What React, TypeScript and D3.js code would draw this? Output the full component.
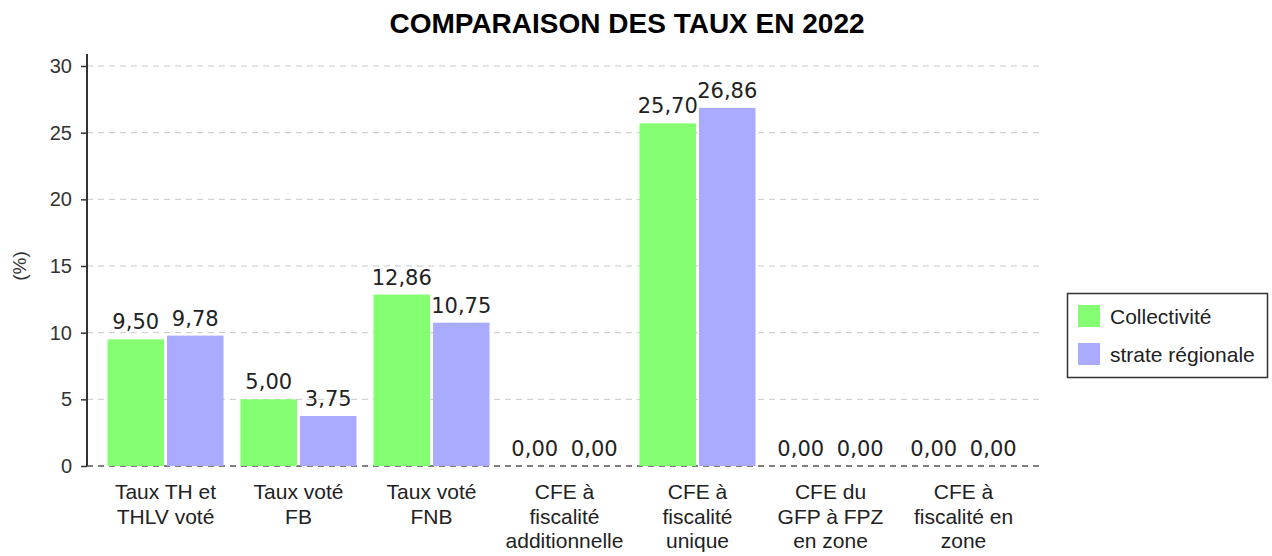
import React, { useEffect, useRef } from "react";
import * as d3 from "d3";

const categories = [
  ["Taux TH et", "THLV voté"],
  ["Taux voté", "FB"],
  ["Taux voté", "FNB"],
  ["CFE à", "fiscalité", "additionnelle"],
  ["CFE à", "fiscalité", "unique"],
  ["CFE du", "GFP à FPZ", "en zone"],
  ["CFE à", "fiscalité en", "zone"],
];
const collectivite = [9.5, 5.0, 12.86, 0, 25.7, 0, 0];
const strate = [9.78, 3.75, 10.75, 0, 26.86, 0, 0];
const seriesNames = ["Collectivité", "strate régionale"];
const seriesColors = ["#84ff72", "#aaaaff"];
const yTicks = [0, 5, 10, 15, 20, 25, 30];

function App() {
  const svgRef = useRef<SVGSVGElement>(null);

  useEffect(() => {
    const svg = d3.select(svgRef.current);
    svg.selectAll("*").remove();

    const left = 87, right = 1042, top = 66, bottom = 466;
    const sans = "'Liberation Sans', Arial, sans-serif";
    const dejavu = "'DejaVu Sans', sans-serif";

    const x = d3.scaleBand<number>()
      .domain(categories.map((_, i) => i))
      .range([left + 12, right - 12]);
    const y = d3.scaleLinear().domain([0, 30]).range([bottom, top]);
    const inner = d3.scaleBand<number>().domain([0, 1]).range([8.5, x.bandwidth() - 8.5]).paddingInner(0.05);

    // title
    svg.append("text")
      .attr("x", 627).attr("y", 33)
      .attr("text-anchor", "middle")
      .attr("font-family", sans).attr("font-weight", "bold").attr("font-size", 28)
      .attr("fill", "#000")
      .text("COMPARAISON DES TAUX EN 2022");

    // gridlines
    svg.append("g").selectAll("line")
      .data(yTicks)
      .join("line")
      .attr("x1", left).attr("x2", right)
      .attr("y1", d => y(d)).attr("y2", d => y(d))
      .attr("stroke", d => d === 0 ? "#555" : "#c8c8c8")
      .attr("stroke-width", d => d === 0 ? 1.5 : 1)
      .attr("stroke-dasharray", "6,5");

    // bars
    const data = [collectivite, strate];
    data.forEach((vals, s) => {
      svg.append("g").selectAll("rect")
        .data(vals)
        .join("rect")
        .attr("x", (_, i) => (x(i) as number) + (inner(s) as number))
        .attr("y", d => y(d))
        .attr("width", inner.bandwidth())
        .attr("height", d => bottom - y(d))
        .attr("fill", seriesColors[s]);

      svg.append("g").selectAll("text")
        .data(vals)
        .join("text")
        .attr("x", (_, i) => (x(i) as number) + (inner(s) as number) + inner.bandwidth() / 2)
        .attr("y", d => y(d) - 10)
        .attr("text-anchor", "middle")
        .attr("font-family", dejavu).attr("font-size", 21)
        .attr("fill", "#222")
        .text(d => d.toFixed(2).replace(".", ","));
    });

    // y axis
    const yAxis = svg.append("g")
      .attr("transform", `translate(${left},0)`)
      .call(d3.axisLeft(y).tickValues(yTicks).tickSize(6).tickPadding(9));
    yAxis.select(".domain").remove();
    yAxis.selectAll("line").attr("stroke", "#333").attr("stroke-width", 1.5);
    yAxis.selectAll("text")
      .attr("font-family", sans).attr("font-size", 20).attr("fill", "#333");
    svg.append("line")
      .attr("x1", left).attr("x2", left)
      .attr("y1", 54).attr("y2", bottom)
      .attr("stroke", "#333").attr("stroke-width", 2);

    svg.append("text")
      .attr("transform", `translate(26,${(top + bottom) / 2}) rotate(-90)`)
      .attr("text-anchor", "middle")
      .attr("font-family", sans).attr("font-size", 19).attr("fill", "#333")
      .text("(%)");

    // x labels
    const xl = svg.append("g").selectAll("text")
      .data(categories)
      .join("text")
      .attr("text-anchor", "middle")
      .attr("font-family", sans).attr("font-size", 21).attr("fill", "#222");
    xl.selectAll("tspan")
      .data((d, i) => d.map(line => ({ line, i })))
      .join("tspan")
      .attr("x", d => (x(d.i) as number) + x.bandwidth() / 2)
      .attr("y", (_, j) => 499 + j * 24.5)
      .text(d => d.line);

    // legend
    const lg = svg.append("g");
    lg.append("rect")
      .attr("x", 1067.5).attr("y", 293.5).attr("width", 200).attr("height", 84)
      .attr("fill", "#fff").attr("stroke", "#333").attr("stroke-width", 1.5);
    seriesNames.forEach((name, s) => {
      lg.append("rect")
        .attr("x", 1078).attr("y", 305 + s * 38).attr("width", 22).attr("height", 22)
        .attr("fill", seriesColors[s]);
      lg.append("text")
        .attr("x", 1110).attr("y", 324 + s * 38)
        .attr("font-family", sans).attr("font-size", 21).attr("fill", "#222")
        .text(name);
    });
  }, []);

  return (
    <svg ref={svgRef} width={1272} height={556}
      style={{ position: "absolute", left: 0, top: 0, background: "#fff" }} />
  );
}

export default App;
